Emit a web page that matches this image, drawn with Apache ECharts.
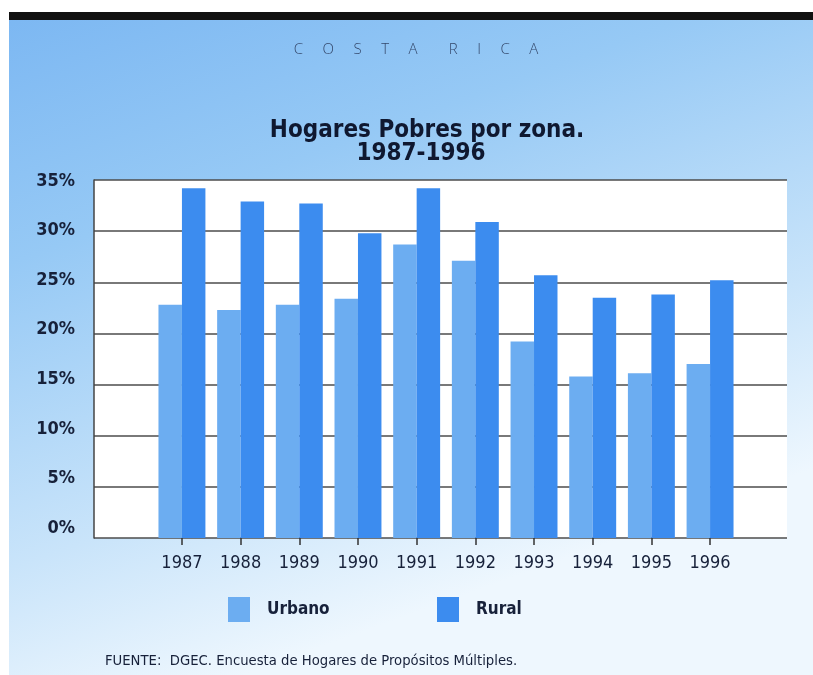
<!DOCTYPE html>
<html>
<head>
<meta charset="utf-8">
<script src="https://cdn.jsdelivr.net/npm/echarts@6/dist/echarts.min.js"></script>
<style>html,body{margin:0;padding:0;background:#fff}#c{width:813px;height:675px}</style>
</head>
<body>
<div id="c"></div>
<script>
var years = ['1987','1988','1989','1990','1991','1992','1993','1994','1995','1996'];
var urbano = [22.8, 22.3, 22.8, 23.4, 28.7, 27.1, 19.2, 15.8, 16.1, 17.0];
var rural = [34.2, 32.9, 32.7, 29.8, 34.2, 30.9, 25.7, 23.5, 23.8, 25.2];
var yTicks = [0, 5, 10, 15, 20, 25, 30, 35];

var FONT = '"Liberation Sans Narrow", "DejaVu Sans Condensed", "Liberation Sans", sans-serif';
var INK = '#17213a';
var yMin = yTicks[0], yMax = yTicks[yTicks.length - 1];

var chart = echarts.init(document.getElementById('c'), null, {renderer: 'canvas'});
chart.setOption({
  animation: false,
  backgroundColor: {
    type: 'linear', x: 0, y: 0, x2: 0.3, y2: 1,
    colorStops: [
      {offset: 0, color: '#7ab6f2'},
      {offset: 0.35, color: '#96c9f5'},
      {offset: 0.75, color: '#c9e4fa'},
      {offset: 1, color: '#eef7fe'}
    ]
  },
  graphic: [
    {type: 'rect', left: 0, top: 0, shape: {width: 813, height: 12}, style: {fill: '#ffffff'}},
    {type: 'rect', left: 0, top: 0, shape: {width: 9, height: 675}, style: {fill: '#ffffff'}},
    {type: 'rect', left: 9, top: 12, shape: {width: 804, height: 8}, style: {fill: '#111111'}}
  ],
  title: [
    {text: 'C     O     S     T     A        R     I     C     A', left: 411, top: 37, textAlign: 'center',
     textStyle: {fontFamily: '"Open Sans", "DejaVu Sans", sans-serif', fontWeight: 300, fontSize: 15, color: '#34486b'}},
    {text: 'Hogares Pobres por zona.', left: 422, top: 114, textAlign: 'center',
     textStyle: {fontFamily: FONT, fontWeight: 'bold', fontSize: 24, color: '#0f1830'}},
    {text: '1987-1996', left: 416, top: 137, textAlign: 'center',
     textStyle: {fontFamily: FONT, fontWeight: 'bold', fontSize: 24, color: '#0f1830'}},
    {text: 'FUENTE:  DGEC. Encuesta de Hogares de Propósitos Múltiples.', left: 100, top: 649,
     textStyle: {fontFamily: FONT, fontWeight: 'normal', fontSize: 14.7, color: INK}}
  ],
  legend: [
    {data: ['Urbano'], left: 223, top: 592, itemWidth: 22, itemHeight: 25, icon: 'rect',
     textStyle: {fontFamily: FONT, fontWeight: 'bold', fontSize: 17, color: INK, padding: [0, 0, 0, 12]}},
    {data: ['Rural'], left: 432, top: 592, itemWidth: 22, itemHeight: 25, icon: 'rect',
     textStyle: {fontFamily: FONT, fontWeight: 'bold', fontSize: 17, color: INK, padding: [0, 0, 0, 12]}}
  ],
  grid: [
    {left: 94, right: 26, top: 180, bottom: 137, show: true, backgroundColor: '#ffffff', borderWidth: 0},
    {left: 152.6, right: 73.6, top: 180, bottom: 137},
    {left: 94, right: 26, top: 181, bottom: 147}
  ],
  xAxis: [
    {type: 'value', gridIndex: 0, show: false, min: 0, max: 1},
    {type: 'category', gridIndex: 1, data: years,
     axisLine: {show: false},
     axisTick: {show: true, alignWithLabel: true, length: 7, lineStyle: {color: '#333', width: 1.5}},
     axisLabel: {interval: 0, margin: 16, fontFamily: FONT, fontSize: 18, color: INK}},
    {type: 'value', gridIndex: 2, show: false, min: 0, max: 1}
  ],
  yAxis: [
    {type: 'value', gridIndex: 0, min: yMin, max: yMax, interval: 5,
     axisLine: {show: true, lineStyle: {color: '#444', width: 1.5}},
     axisTick: {show: false},
     splitLine: {show: true, lineStyle: {color: '#4d4d4d', width: 1.6}},
     axisLabel: {show: false}},
    {type: 'value', gridIndex: 1, min: yMin, max: yMax, show: false},
    {type: 'value', gridIndex: 2, min: yMin, max: yMax, interval: 5,
     axisLine: {show: false}, axisTick: {show: false}, splitLine: {show: false},
     axisLabel: {margin: 19, fontFamily: FONT, fontWeight: 'bold', fontSize: 18, color: INK,
                 formatter: function (v) { return v + '%'; }}}
  ],
  series: [
    {name: 'Urbano', type: 'bar', xAxisIndex: 1, yAxisIndex: 1, data: urbano,
     barGap: '0%', barCategoryGap: '20%', itemStyle: {color: '#6cadf1'}},
    {name: 'Rural', type: 'bar', xAxisIndex: 1, yAxisIndex: 1, data: rural,
     barGap: '0%', barCategoryGap: '20%', itemStyle: {color: '#3c8cef'}}
  ]
});
</script>
</body>
</html>
